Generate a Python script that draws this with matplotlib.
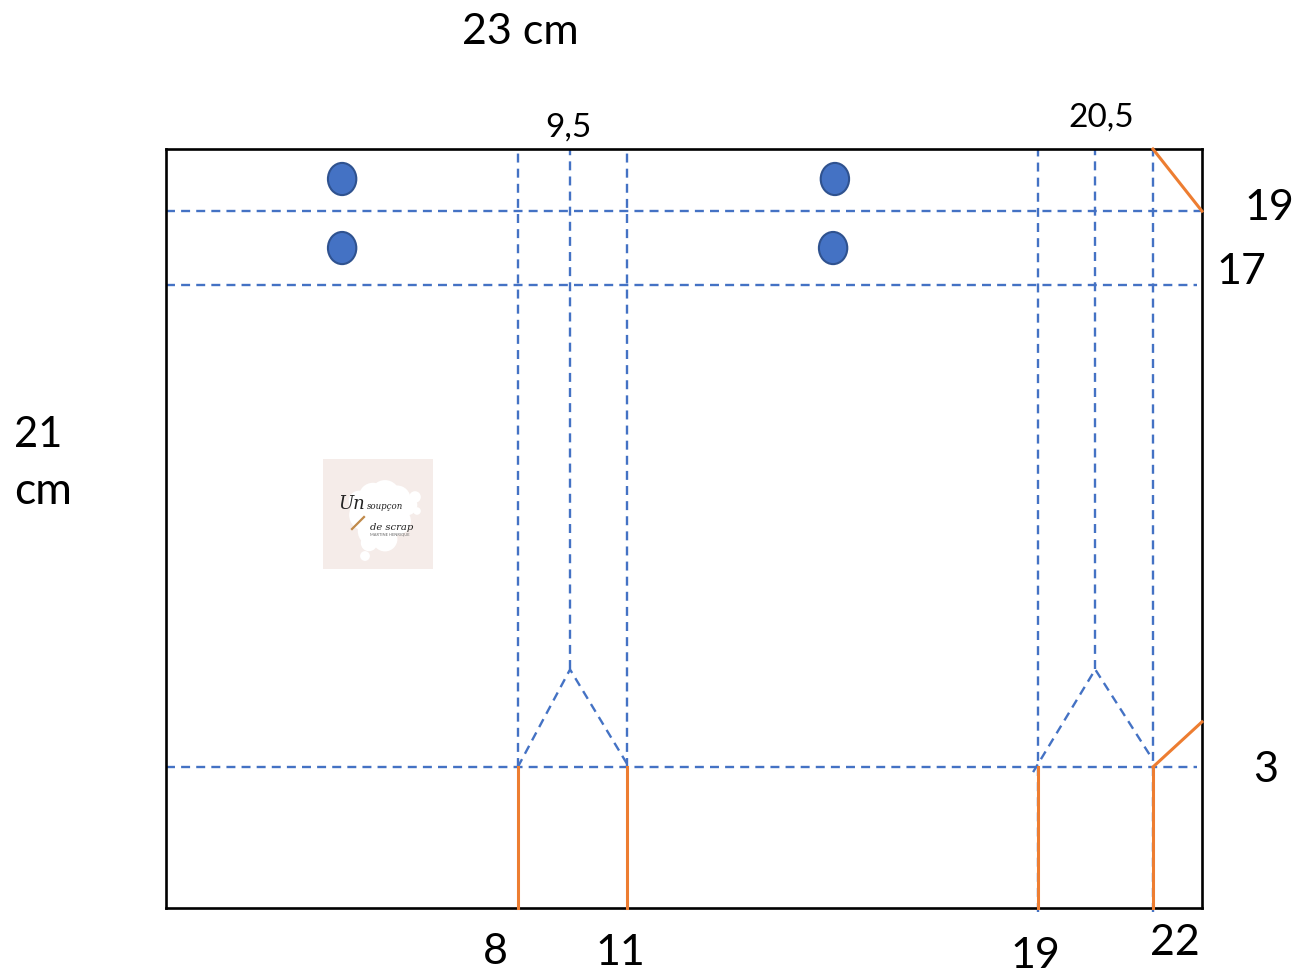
import matplotlib
matplotlib.use("Agg")
import matplotlib.pyplot as plt
from matplotlib.patches import Ellipse

plt.rcParams['font.family'] = ['Lato', 'DejaVu Sans']

# figure size in pixels and the sheet rectangle
W, H = 1297, 970
SHEET = (166, 150, 1202, 909)
SHEET_W, SHEET_H = 23, 21  # cm

# fold positions (cm from left / from bottom)
fold_x_full = [7.81, 10.24]
fold_x_bottom = [19.36, 21.91]
fold_x_mid = [8.97, 20.63]
fold_y = [19.28, 17.24, 3.90]
peak_y = 6.60

# cut lines
cut_x = [7.81, 10.24, 19.36, 21.91]
cut_corner_top = ([21.91, 23.0], [21.0, 19.28])
cut_corner_bottom = ([21.91, 23.0], [3.90, 5.15])

# chevrons under the gussets
chevron_left = ([7.81, 8.97, 10.24], [3.90, 6.60, 3.98])
chevron_right = ([19.25, 20.63, 21.91], [3.76, 6.60, 4.10])

# punch holes
hole_x = [3.91, 14.85, 3.91, 14.81]
hole_y = [20.17, 20.17, 18.26, 18.26]

# labels: text, x px, y px, font size
labels = [
    ("23 cm", 520, 32, 31),
    ("9,5", 568, 128, 24),
    ("20,5", 1101, 118, 24),
    ("19", 1269, 208, 31),
    ("17", 1241, 272, 31),
    ("3", 1266, 770, 31),
    ("8", 495, 952, 31),
    ("11", 620, 953, 31),
    ("19", 1035, 956, 31),
    ("22", 1175, 943, 31),
    ("21", 38, 435, 30),
    ("cm", 43, 492, 32),
]

BLUE = "#4472C4"
ORANGE = "#ED7D31"

fig = plt.figure(figsize=(W / 100, H / 100), dpi=100)
ax = fig.add_axes([SHEET[0] / W, 1 - SHEET[3] / H,
                   (SHEET[2] - SHEET[0]) / W, (SHEET[3] - SHEET[1]) / H])
ax.set_xlim(0, SHEET_W)
ax.set_ylim(0, SHEET_H)
ax.set_xticks([])
ax.set_yticks([])
for s in ax.spines.values():
    s.set_linewidth(1.9)
    s.set_color("black")

dash = dict(color=BLUE, lw=1.7, dashes=(3.8, 2.6), clip_on=False, zorder=2)
solid = dict(color=ORANGE, lw=2.2, clip_on=False, zorder=3)

# dashed folds
for x in fold_x_full:
    ax.plot([x, x], [fold_y[2], SHEET_H], **dash)
for x in fold_x_bottom:
    ax.plot([x, x], [-0.1, SHEET_H], **dash)
for x in fold_x_mid:
    ax.plot([x, x], [peak_y, SHEET_H], **dash)
ax.plot([0, SHEET_W], [fold_y[0], fold_y[0]], **dash)
ax.plot([0, 22.9], [fold_y[1], fold_y[1]], **dash)
ax.plot([0, 22.9], [fold_y[2], fold_y[2]], **dash)
ax.plot(*chevron_left, **dash)
ax.plot(*chevron_right, **dash)

# orange cuts
for x in cut_x:
    ax.plot([x, x], [0, fold_y[2]], **solid)
ax.plot(*cut_corner_top, **solid)
ax.plot(*cut_corner_bottom, **solid)

# holes
for x, y in zip(hole_x, hole_y):
    ax.add_patch(Ellipse((x, y), 0.63, 0.89, facecolor=BLUE,
                         edgecolor="#2F528F", lw=1.5, zorder=4))

for txt, px, py, size in labels:
    fig.text(px / W, 1 - py / H, txt, fontsize=size, color="black",
             ha="center", va="center")

# logo square
logo = fig.add_axes([323 / W, 1 - 570 / H, 110 / W, 110 / H])
logo.set_xlim(0, 110)
logo.set_ylim(110, 0)
logo.set_xticks([])
logo.set_yticks([])
logo.set_facecolor("#F5ECE9")
for s in logo.spines.values():
    s.set_visible(False)
cloud_x = [36, 50, 62, 74, 84, 42, 58, 74, 50, 62, 46, 92, 94, 42]
cloud_y = [42, 38, 36, 40, 46, 56, 58, 62, 72, 80, 84, 38, 52, 97]
cloud_s = [220, 420, 460, 380, 220, 520, 620, 400, 480, 320, 140, 70, 30, 50]
logo.scatter(cloud_x, cloud_y, s=cloud_s, color="white", lw=0, zorder=1)
logo.text(15, 44, "Un", fontsize=13, style="italic", family="DejaVu Serif",
          ha="left", va="center", color="#222222", zorder=3)
logo.text(44, 47, "soupçon", fontsize=6.2, style="italic", family="DejaVu Serif",
          ha="left", va="center", color="#222222", zorder=3)
logo.text(47, 67, "de scrap", fontsize=7.2, style="italic", family="DejaVu Serif",
          ha="left", va="center", color="#222222", zorder=3)
logo.text(47, 74, "MARTINE HENRIQUE", fontsize=2.9, ha="left", va="center",
          color="#666666", zorder=3)
logo.plot([29, 41], [70, 58], color="#C08A4A", lw=1.6, zorder=2)

fig.savefig("out.png", dpi=100, facecolor="white")
